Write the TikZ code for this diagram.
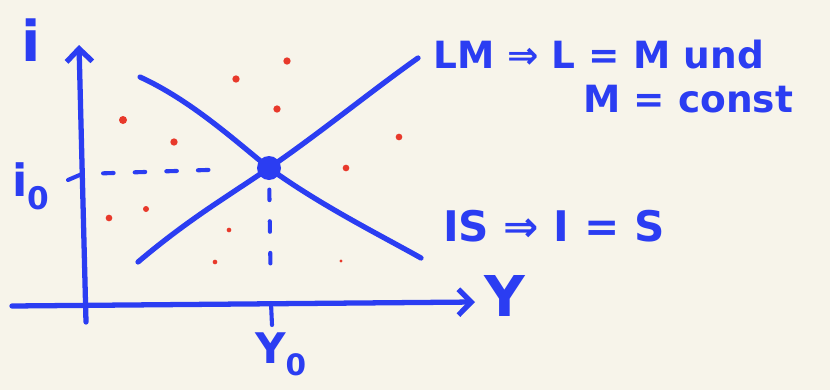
\documentclass[tikz,border=0pt]{standalone}
\usepackage{fontspec}
\setmainfont{DejaVu Sans}
\usetikzlibrary{arrows.meta}
\definecolor{paper}{HTML}{F7F4EA}
\definecolor{ink}{HTML}{2B3DF2}
\definecolor{redink}{HTML}{E8392B}
\begin{document}
\begin{tikzpicture}[x=0.03cm, y=-0.03cm, line cap=round, line join=round,
  pen/.style={draw=ink, line width=4.5pt},
  guide/.style={draw=ink, line width=3.5pt, dash pattern=on 9pt off 18pt},
  axisarrow/.style={-{Straight Barb[length=11pt,width=22pt,line width=4.5pt]}},
  hand/.style={text=ink, inner sep=0pt, font=\bfseries\fontsize{#1}{#1}\selectfont},
  hand/.default=32]
  \path[fill=paper, use as bounding box] (0,0) rectangle (830,390);

  % axes
  \draw[pen, axisarrow] (12,306) -- (475,302);
  \draw[pen, axisarrow] (86,322) -- (79,45);
  \node[hand=48] (ilab) at (31,40) {i};
  \node[hand=48] (ylab) at (505,296) {Y};

  % equilibrium
  \coordinate (E) at (269,168);
  \node[circle, fill=ink, minimum size=0.72cm, inner sep=0pt] (eq) at (E) {};

  % IS and LM curves
  \draw[pen] (138,262) .. controls (190,218) and (230,195) .. (E)
    .. controls (320,133) and (370,92) .. (418,58);
  \draw[pen] (140,77) .. controls (190,100) and (232,138) .. (E)
    .. controls (320,205) and (380,235) .. (421,258);

  % guides to the axes
  \coordinate (iaxis) at (82,174);
  \coordinate (yaxis) at (271,303);
  \draw[pen, line width=3.5pt] (68,180) -- (iaxis);
  \draw[pen, line width=3.5pt] (yaxis) -- (272,325);
  \draw[guide, shorten <=18pt, shorten >=26pt] (iaxis) -- (eq);
  \draw[guide, shorten <=8pt, shorten >=18pt] (eq) -- (yaxis);
  \node[hand=38] (i0lab) at (31,186) {i\textsubscript{0}};
  \node[hand=36] (y0lab) at (281,354) {Y\textsubscript{0}};

  % labels
  \node[hand, anchor=west] (lmlab) at (433,55) {LM ⇒ L = M und};
  \node[hand, anchor=west] (mlab) at (583,99) {M = const};
  \node[hand=36, anchor=west] (islab) at (443,226) {IS ⇒ I = S};

  % red dots
  \foreach \px/\py/\r in {123/120/0.12, 174/142/0.11, 236/79/0.11, 287/61/0.11,
      277/109/0.11, 109/218/0.10, 146/209/0.09, 229/230/0.07, 215/262/0.07,
      399/137/0.10, 346/168/0.10, 341/261/0.05}
    \fill[redink] (\px,\py) circle[radius=\r cm];
\end{tikzpicture}
\end{document}
